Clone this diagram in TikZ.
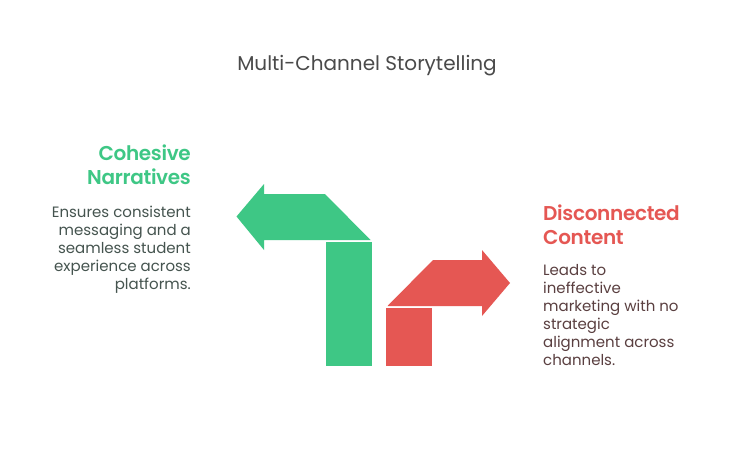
\documentclass[tikz,border=0pt]{standalone}
\usepackage{fontspec}
\setmainfont{Poppins}
\newfontfamily\headfont{Poppins SemiBold}[LetterSpace=-1.6]
\definecolor{grn}{HTML}{3EC785}
\definecolor{rd}{HTML}{E55753}
\definecolor{ttl}{HTML}{4A4A4A}
\definecolor{lbody}{HTML}{45544F}
\definecolor{rbody}{HTML}{5A3F40}
\tikzset{
  x=1pt,y=-1pt,
  shapegrn/.style={fill=grn,draw=none},
  shapered/.style={fill=rd,draw=none},
  headtxt/.style={inner sep=0pt,font=\headfont\fontsize{20}{24}\selectfont},
  bodytxt/.style={inner sep=0pt,font=\fontsize{15}{18}\selectfont},
}
\begin{document}
\begin{tikzpicture}
\useasboundingbox[fill=white] (0,0) rectangle (734,463);
\fill[shapegrn] (236.5,216.5) -- (264,184) -- (264,194) -- (325,194) -- (370.5,240) -- (264,240) -- (264,250) -- cycle;
\fill[shapegrn] (326,242) rectangle (372,366);
\fill[shapered] (387.5,306) -- (433,260) -- (482,260) -- (482,250) -- (510,283) -- (482,316) -- (482,306) -- cycle;
\fill[shapered] (386,308) rectangle (432,366);
\node[inner sep=0pt,font=\fontsize{20}{24}\selectfont,text=ttl] (title) at (367,66) {Multi-Channel Storytelling};
\node[headtxt,text=grn,align=right,anchor=north east] (lhead) at (191,144.7) {Cohesive\\Narratives};
\node[bodytxt,text=lbody,align=right,anchor=north east] (lbody) at (191,206) {Ensures consistent\\messaging and a\\seamless student\\experience across\\platforms.};
\node[headtxt,text=rd,align=left,anchor=north west] (rhead) at (543,205) {Disconnected\\Content};
\node[bodytxt,text=rbody,align=left,anchor=north west] (rbody) at (543,263.7) {Leads to\\ineffective\\marketing with no\\strategic\\alignment across\\channels.};
\end{tikzpicture}
\end{document}
